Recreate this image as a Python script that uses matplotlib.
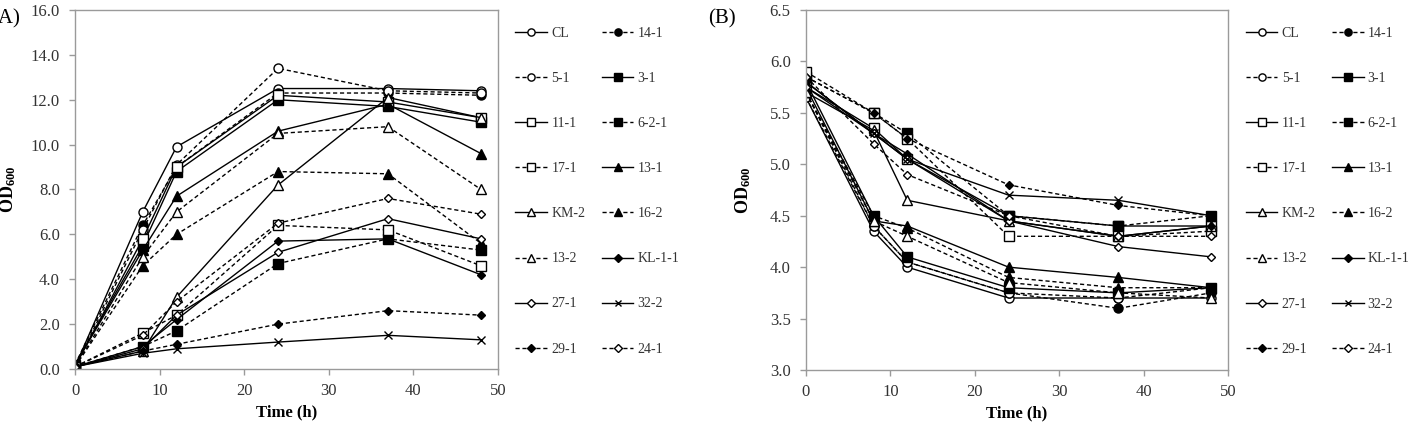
import matplotlib
matplotlib.use("Agg")
import matplotlib.pyplot as plt
from matplotlib.ticker import FormatStrFormatter

plt.rcParams['font.family'] = ['Liberation Serif', 'DejaVu Serif']
plt.rcParams['mathtext.fontset'] = 'custom'
plt.rcParams['mathtext.rm'] = 'Liberation Serif'
plt.rcParams['mathtext.bf'] = 'Liberation Serif:bold'

# sampling times (h)
time_h = [0, 8, 12, 24, 37, 48]

# strain labels, in legend reading order (row by row, two per row)
strains = ['CL', '14-1', '5-1', '3-1', '11-1', '6-2-1', '17-1', '13-1',
           'KM-2', '16-2', '13-2', 'KL-1-1', '27-1', '32-2', '29-1', '24-1']

# (A) OD600 during growth
od_a = {
    'CL':     [0.1, 7.0, 9.9, 12.5, 12.5, 12.4],
    '14-1':   [0.2, 6.4, 9.0, 12.3, 12.3, 12.2],
    '5-1':    [0.1, 6.2, 9.1, 13.4, 12.4, 12.3],
    '3-1':    [0.2, 5.5, 8.8, 12.0, 11.7, 11.0],
    '11-1':   [0.1, 5.8, 9.0, 12.2, 11.9, 11.2],
    '6-2-1':  [0.1, 1.0, 1.7, 4.7, 5.8, 5.3],
    '17-1':   [0.1, 1.6, 2.4, 6.4, 6.2, 4.6],
    '13-1':   [0.2, 5.3, 7.7, 10.6, 11.8, 9.6],
    'KM-2':   [0.1, 0.8, 3.2, 8.2, 12.1, 11.2],
    '16-2':   [0.1, 4.6, 6.0, 8.8, 8.7, 5.6],
    '13-2':   [0.1, 5.0, 7.0, 10.5, 10.8, 8.0],
    'KL-1-1': [0.1, 1.0, 2.2, 5.7, 5.8, 4.2],
    '27-1':   [0.1, 0.9, 2.4, 5.2, 6.7, 5.8],
    '32-2':   [0.1, 0.7, 0.9, 1.2, 1.5, 1.3],
    '29-1':   [0.1, 0.8, 1.1, 2.0, 2.6, 2.4],
    '24-1':   [0.1, 1.5, 3.0, 6.5, 7.6, 6.9],
}

# (B) OD600 during decline
od_b = {
    'CL':     [5.65, 4.35, 4.00, 3.70, 3.70, 3.70],
    '14-1':   [5.70, 4.40, 4.05, 3.75, 3.60, 3.75],
    '5-1':    [5.65, 4.40, 4.05, 3.75, 3.70, 3.80],
    '3-1':    [5.80, 4.50, 4.10, 3.80, 3.75, 3.80],
    '11-1':   [5.75, 5.35, 5.05, 4.50, 4.40, 4.40],
    '6-2-1':  [5.85, 5.50, 5.30, 4.50, 4.40, 4.50],
    '17-1':   [5.90, 5.50, 5.25, 4.30, 4.30, 4.35],
    '13-1':   [5.75, 4.45, 4.40, 4.00, 3.90, 3.80],
    'KM-2':   [5.70, 5.33, 4.65, 4.45, 4.30, 4.40],
    '16-2':   [5.70, 4.50, 4.38, 3.90, 3.80, 3.80],
    '13-2':   [5.70, 4.45, 4.30, 3.85, 3.75, 3.70],
    'KL-1-1': [5.80, 5.30, 5.10, 4.45, 4.30, 4.40],
    '27-1':   [5.75, 5.30, 5.05, 4.45, 4.20, 4.10],
    '32-2':   [5.80, 5.30, 5.05, 4.70, 4.65, 4.50],
    '29-1':   [5.85, 5.50, 5.25, 4.80, 4.60, 4.50],
    '24-1':   [5.85, 5.20, 4.90, 4.50, 4.30, 4.30],
}

# line style, marker, filled
styles = {
    'CL':     ('-', 'o', False),
    '14-1':   ('--', 'o', True),
    '5-1':    ('--', 'o', False),
    '3-1':    ('-', 's', True),
    '11-1':   ('-', 's', False),
    '6-2-1':  ('--', 's', True),
    '17-1':   ('--', 's', False),
    '13-1':   ('-', '^', True),
    'KM-2':   ('-', '^', False),
    '16-2':   ('--', '^', True),
    '13-2':   ('--', '^', False),
    'KL-1-1': ('-', 'D', True),
    '27-1':   ('-', 'D', False),
    '32-2':   ('-', 'x', True),
    '29-1':   ('--', 'D', True),
    '24-1':   ('--', 'D', False),
}

fig = plt.figure(figsize=(14.13, 4.22), dpi=100)
ax_a = fig.add_axes([0.0531, 0.1256, 0.2993, 0.8507])
ax_b = fig.add_axes([0.5704, 0.1232, 0.2987, 0.8531])

spine_col = '#9a9a9a'


def draw_panel(ax, data, ylabelpad):
    lines = {}
    for name in strains:
        ls, mk, filled = styles[name]
        ms = 6.5
        if mk == 'D':
            ms = 4.5
        elif mk == 'x':
            ms = 6
        ln, = ax.plot(time_h, data[name], linestyle=ls, color='black',
                      linewidth=1.0, marker=mk, markersize=ms,
                      markerfacecolor='black' if filled else 'white',
                      markeredgecolor='black', markeredgewidth=1.0,
                      dashes=(3, 2) if ls == '--' else (None, None),
                      label=name)
        lines[name] = ln
    for sp in ax.spines.values():
        sp.set_color(spine_col)
        sp.set_linewidth(1.0)
    ax.tick_params(direction='out', length=4, width=1, color=spine_col,
                   labelsize=12, labelcolor='#333333', pad=6)
    ax.tick_params(axis='y', pad=7)
    ax.set_xlim(0, 50)
    ax.set_xticks([0, 10, 20, 30, 40, 50])
    ax.set_xlabel('Time (h)', fontsize=12, fontweight='bold', labelpad=4)
    ax.set_ylabel(r'$\mathbf{OD_{600}}$', fontsize=13, labelpad=ylabelpad)
    ax.yaxis.set_major_formatter(FormatStrFormatter('%.1f'))
    # legend: two columns filled row by row
    order = strains[0::2] + strains[1::2]
    ax.legend([lines[n] for n in order], order, ncol=2, frameon=False,
              loc='upper left', bbox_to_anchor=(1.025, 0.972),
              fontsize=10, labelcolor='#333333', handlelength=2.3,
              handletextpad=0.3, labelspacing=2.31, columnspacing=1.15,
              borderpad=0, markerscale=0.8)


draw_panel(ax_a, od_a, 9)
ax_a.set_ylim(0, 16)
ax_a.set_yticks([0, 2, 4, 6, 8, 10, 12, 14, 16])

draw_panel(ax_b, od_b, 12)
ax_b.set_ylim(3.0, 6.5)
ax_b.set_yticks([3.0, 3.5, 4.0, 4.5, 5.0, 5.5, 6.0, 6.5])

fig.text(-0.006, 0.955, '(A)', fontsize=15, va='center', ha='left')
fig.text(0.501, 0.955, '(B)', fontsize=15, va='center', ha='left')

fig.savefig('out.png', dpi=100)
